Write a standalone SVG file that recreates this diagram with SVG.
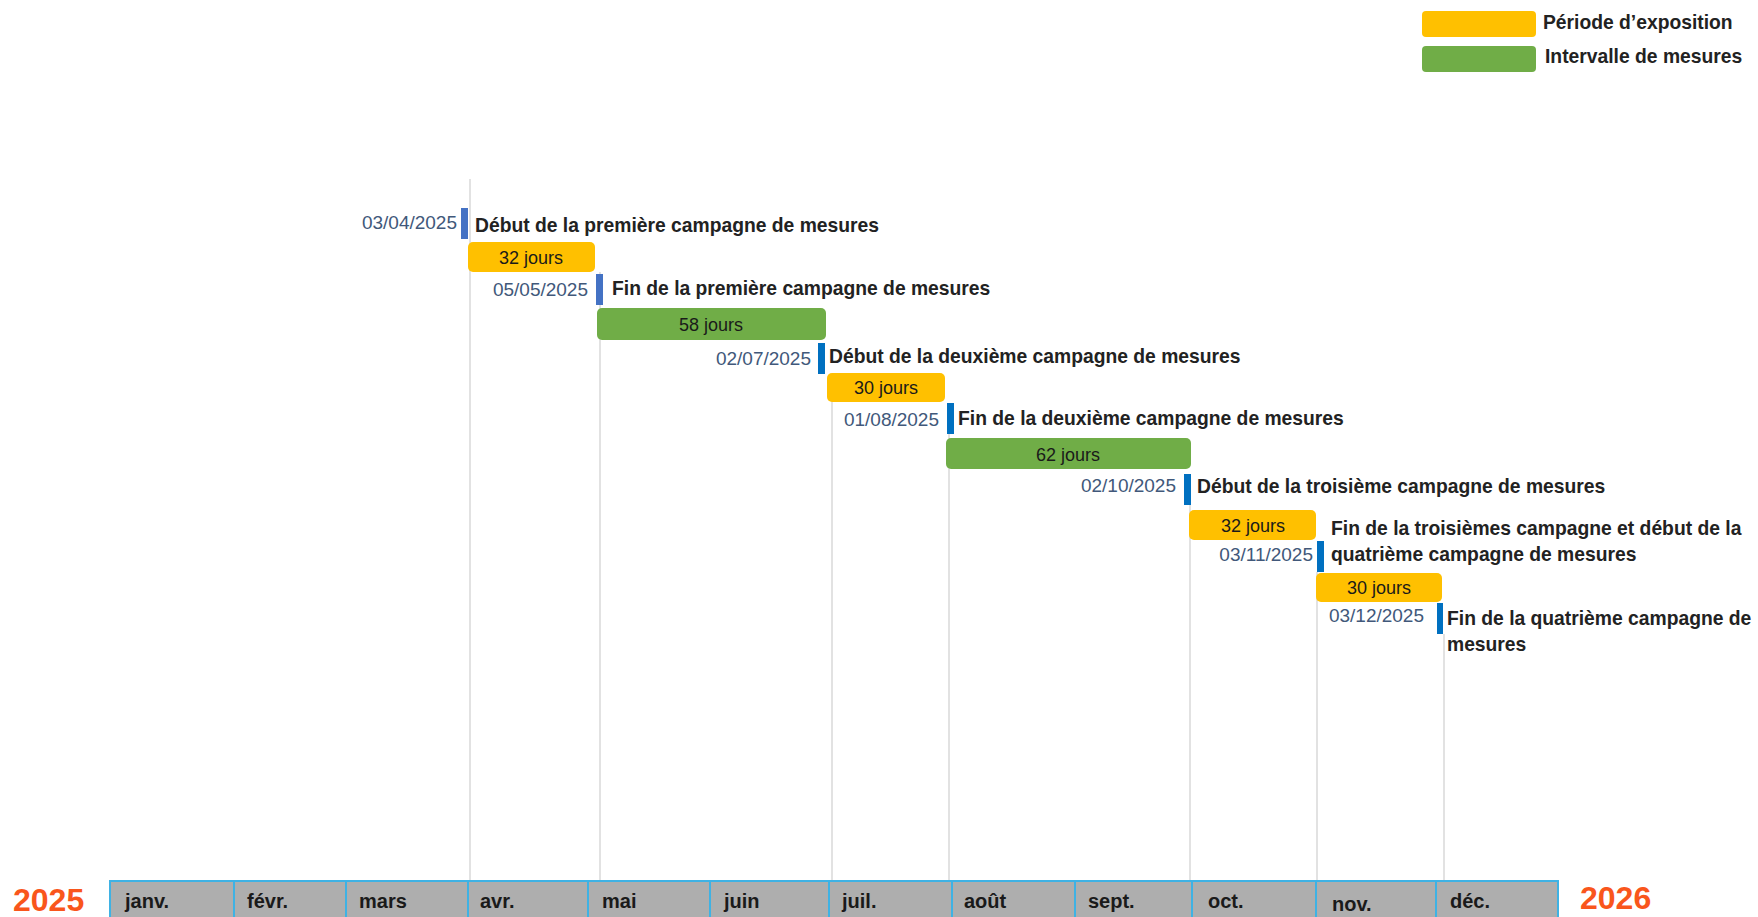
<svg xmlns="http://www.w3.org/2000/svg" width="1758" height="917" viewBox="0 0 1758 917">
<style>
  .lbl{font-family:"Liberation Sans",Arial,sans-serif;font-weight:bold;font-size:19.3px;fill:#222}
  .date{font-family:"Liberation Sans",Arial,sans-serif;font-size:19px;fill:#41587A;text-anchor:end}
  .dur{font-family:"Liberation Sans",Arial,sans-serif;font-size:18px;fill:#1a1a1a;text-anchor:middle}
  .month{font-family:"Liberation Sans",Arial,sans-serif;font-weight:bold;font-size:20px;fill:#1a1a1a}
  .year{font-family:"Liberation Sans",Arial,sans-serif;font-weight:bold;font-size:32px;fill:#F9561C}
  .expo{fill:#FFC000}
  .meas{fill:#70AD47}
  .mk1{fill:#4472C4}
  .mk2{fill:#0070C0}
  .drop{stroke:#D9D9D9;stroke-width:1.5;fill:none}
  .cell{fill:#AEAEAE;stroke:#3FB2E4;stroke-width:2}
</style>
<rect width="1758" height="917" fill="#ffffff"/>

<g id="legend">
  <rect class="expo" x="1422" y="11" width="114" height="26" rx="4"/>
  <text class="lbl" x="1543" y="29">Période d’exposition</text>
  <rect class="meas" x="1422" y="46" width="114" height="26" rx="4"/>
  <text class="lbl" x="1545" y="63">Intervalle de mesures</text>
</g>

<g id="connectors">
  <line class="drop" x1="470" y1="179" x2="470" y2="881"/>
  <line class="drop" x1="600" y1="272" x2="600" y2="881"/>
  <line class="drop" x1="832" y1="374" x2="832" y2="881"/>
  <line class="drop" x1="949" y1="434" x2="949" y2="881"/>
  <line class="drop" x1="1190" y1="505" x2="1190" y2="881"/>
  <line class="drop" x1="1317" y1="572" x2="1317" y2="881"/>
  <line class="drop" x1="1444" y1="634" x2="1444" y2="881"/>
</g>

<g id="m1">
  <rect class="mk1" x="461" y="208" width="7" height="31"/>
  <text class="date" x="457" y="229">03/04/2025</text>
  <text class="lbl" x="475" y="232">Début de la première campagne de mesures</text>
</g>
<g id="b1">
  <rect class="expo" x="468" y="242" width="127" height="30" rx="5"/>
  <text class="dur" x="531" y="264">32 jours</text>
</g>
<g id="m2">
  <rect class="mk1" x="596" y="274" width="7" height="31"/>
  <text class="date" x="588" y="296">05/05/2025</text>
  <text class="lbl" x="612" y="295">Fin de la première campagne de mesures</text>
</g>
<g id="b2">
  <rect class="meas" x="597" y="308" width="229" height="32" rx="5"/>
  <text class="dur" x="711" y="331">58 jours</text>
</g>
<g id="m3">
  <rect class="mk2" x="818" y="343" width="7" height="31"/>
  <text class="date" x="811" y="365">02/07/2025</text>
  <text class="lbl" x="829" y="363">Début de la deuxième campagne de mesures</text>
</g>
<g id="b3">
  <rect class="expo" x="827" y="373" width="118" height="29" rx="5"/>
  <text class="dur" x="886" y="394">30 jours</text>
</g>
<g id="m4">
  <rect class="mk2" x="947" y="403" width="7" height="31"/>
  <text class="date" x="939" y="426">01/08/2025</text>
  <text class="lbl" x="958" y="425">Fin de la deuxième campagne de mesures</text>
</g>
<g id="b4">
  <rect class="meas" x="946" y="438" width="245" height="31" rx="5"/>
  <text class="dur" x="1068" y="461">62 jours</text>
</g>
<g id="m5">
  <rect class="mk2" x="1184" y="474" width="7" height="31"/>
  <text class="date" x="1176" y="492">02/10/2025</text>
  <text class="lbl" x="1197" y="493">Début de la troisième campagne de mesures</text>
</g>
<g id="b5">
  <rect class="expo" x="1189" y="510" width="127" height="30" rx="5"/>
  <text class="dur" x="1253" y="532">32 jours</text>
</g>
<g id="m6">
  <rect class="mk2" x="1317" y="541" width="7" height="31"/>
  <text class="date" x="1313" y="561">03/11/2025</text>
  <text class="lbl" x="1331" y="535">Fin de la troisièmes campagne et début de la</text>
  <text class="lbl" x="1331" y="561">quatrième campagne de mesures</text>
</g>
<g id="b6">
  <rect class="expo" x="1316" y="573" width="126" height="29" rx="5"/>
  <text class="dur" x="1379" y="594">30 jours</text>
</g>
<g id="m7">
  <rect class="mk2" x="1437" y="603" width="6" height="31"/>
  <text class="date" x="1424" y="622">03/12/2025</text>
  <text class="lbl" x="1447" y="625">Fin de la quatrième campagne de</text>
  <text class="lbl" x="1447" y="651">mesures</text>
</g>

<g id="timeline">
  <rect class="cell" x="110" y="881" width="124" height="40"/>
  <rect class="cell" x="234" y="881" width="112" height="40"/>
  <rect class="cell" x="346" y="881" width="122" height="40"/>
  <rect class="cell" x="468" y="881" width="120" height="40"/>
  <rect class="cell" x="588" y="881" width="122" height="40"/>
  <rect class="cell" x="710" y="881" width="119" height="40"/>
  <rect class="cell" x="829" y="881" width="123" height="40"/>
  <rect class="cell" x="952" y="881" width="123" height="40"/>
  <rect class="cell" x="1075" y="881" width="117" height="40"/>
  <rect class="cell" x="1192" y="881" width="124" height="40"/>
  <rect class="cell" x="1316" y="881" width="120" height="40"/>
  <rect class="cell" x="1436" y="881" width="122" height="40"/>
  <text class="month" x="125" y="908">janv.</text>
  <text class="month" x="247" y="908">févr.</text>
  <text class="month" x="359" y="908">mars</text>
  <text class="month" x="480" y="908">avr.</text>
  <text class="month" x="602" y="908">mai</text>
  <text class="month" x="724" y="908">juin</text>
  <text class="month" x="842" y="908">juil.</text>
  <text class="month" x="964" y="908">août</text>
  <text class="month" x="1088" y="908">sept.</text>
  <text class="month" x="1208" y="908">oct.</text>
  <text class="month" x="1332" y="911">nov.</text>
  <text class="month" x="1450" y="908">déc.</text>
  <text class="year" x="13" y="911">2025</text>
  <text class="year" x="1580" y="909">2026</text>
</g>
</svg>
